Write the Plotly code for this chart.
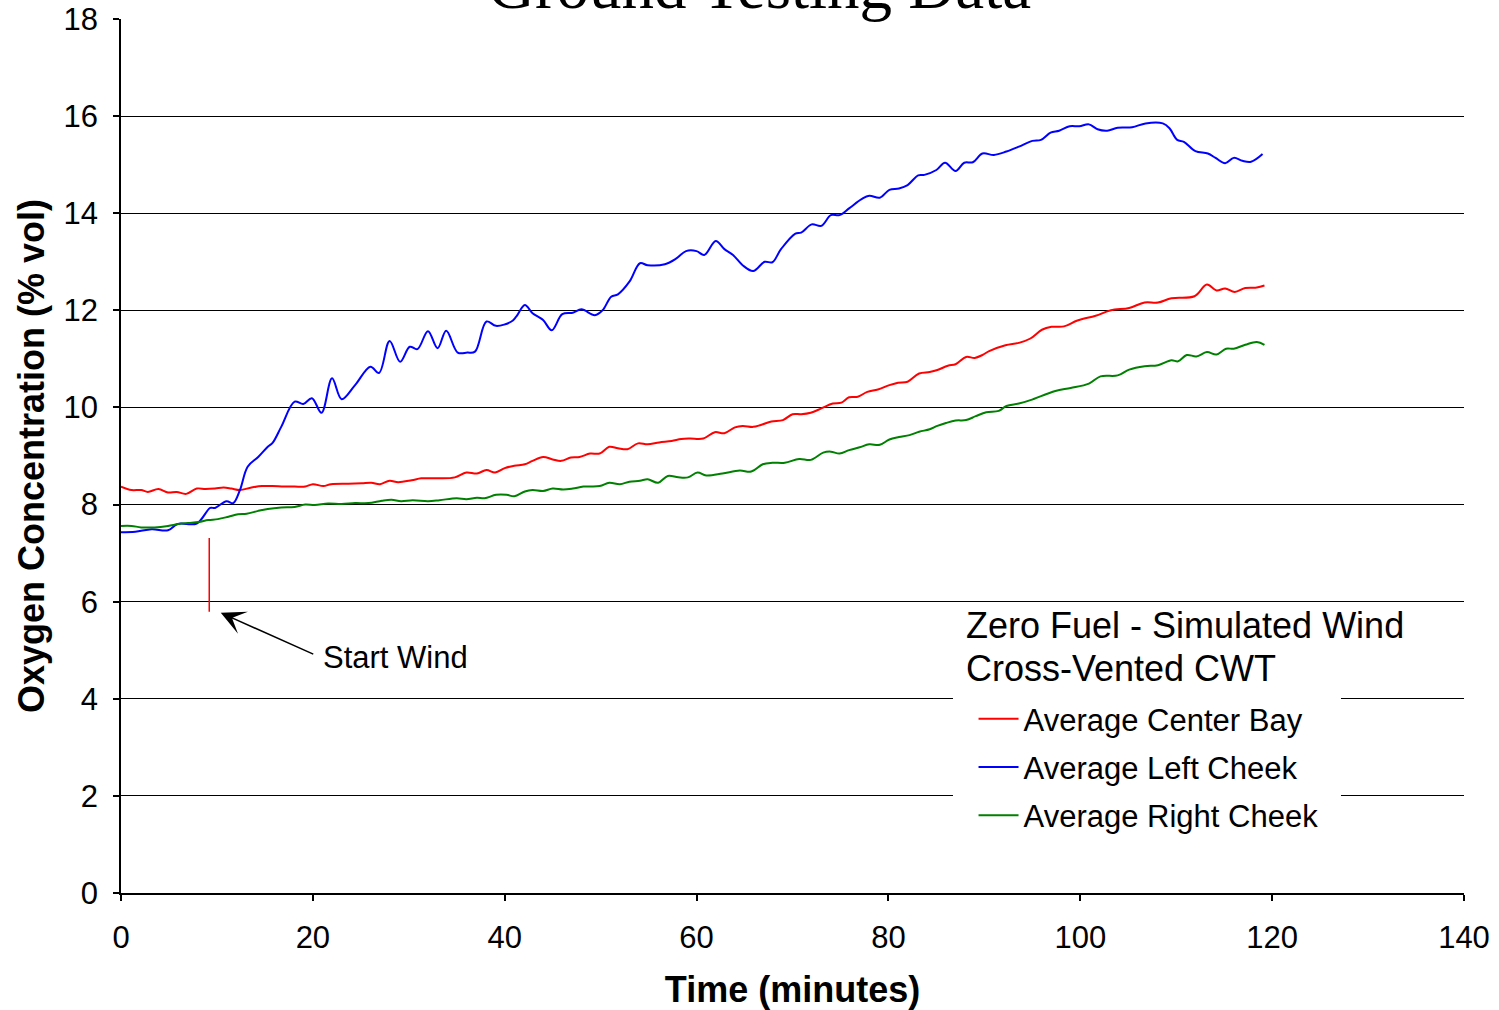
import plotly.graph_objects as go

# ---- Oxygen concentration readings (time in minutes, O2 in % vol) ----
t_center = [0.0, 1.1, 2.1, 2.8, 3.9, 4.9, 5.8, 6.8, 7.9, 8.8, 9.8, 10.7, 11.5, 12.4, 13.6,
            14.7, 15.8, 17.0, 18.1, 19.2, 20.0, 21.1, 21.9, 23.7, 25.1, 26.1, 27.0, 28.0,
            28.9, 30.3, 31.3, 33.1, 34.8, 36.0, 37.1, 38.1, 39.0, 40.0, 41.0, 42.1, 42.9,
            44.0, 45.0, 45.9, 46.9, 47.8, 48.9, 49.9, 50.9, 51.8, 52.8, 53.9, 54.9, 56.1,
            57.4, 58.4, 59.3, 60.7, 61.9, 62.9, 64.0, 64.8, 65.9, 66.7, 67.8, 69.0, 70.0,
            70.9, 71.9, 73.0, 74.2, 75.1, 75.9, 76.8, 77.8, 78.9, 80.1, 81.0, 82.0, 83.2,
            84.3, 85.1, 86.2, 87.0, 88.1, 89.0, 89.8, 90.5, 92.2, 93.6, 94.8, 96.0, 97.0,
            98.3, 99.7, 101.6, 103.2, 105.1, 106.7, 108.1, 109.5, 111.9, 113.2, 114.2,
            115.1, 116.1, 117.2, 118.4, 119.2]
o2_center = [8.37, 8.30, 8.30, 8.26, 8.32, 8.25, 8.26, 8.22, 8.33, 8.32, 8.33, 8.35, 8.33,
             8.30, 8.35, 8.38, 8.38, 8.37, 8.37, 8.37, 8.42, 8.38, 8.42, 8.43, 8.44, 8.45,
             8.42, 8.49, 8.46, 8.50, 8.54, 8.54, 8.56, 8.66, 8.64, 8.71, 8.66, 8.75, 8.80,
             8.83, 8.90, 8.98, 8.93, 8.90, 8.97, 8.98, 9.05, 9.05, 9.19, 9.16, 9.14, 9.26,
             9.24, 9.28, 9.31, 9.35, 9.36, 9.36, 9.49, 9.47, 9.59, 9.62, 9.60, 9.64, 9.71,
             9.74, 9.86, 9.86, 9.89, 9.98, 10.08, 10.10, 10.21, 10.22, 10.32, 10.37, 10.46,
             10.51, 10.53, 10.70, 10.73, 10.77, 10.86, 10.89, 11.04, 11.02, 11.08, 11.16,
             11.28, 11.33, 11.42, 11.60, 11.66, 11.67, 11.79, 11.89, 12.00, 12.05, 12.16,
             12.16, 12.25, 12.29, 12.53, 12.41, 12.45, 12.38, 12.46, 12.47, 12.51]

t_left = [0.0, 1.5, 3.2, 4.9, 5.9, 7.9, 9.3, 9.8, 11.0, 11.7, 12.4, 13.2, 14.3, 15.3, 15.8,
          16.7, 18.1, 19.0, 19.9, 20.9, 22.0, 23.0, 24.4, 26.0, 26.9, 28.0, 29.1, 30.1,
          30.9, 32.0, 33.0, 33.9, 35.1, 36.1, 36.9, 38.1, 39.1, 40.7, 41.2, 42.1, 42.9,
          44.0, 44.9, 46.0, 47.1, 48.0, 49.4, 50.2, 51.1, 51.8, 53.0, 54.1, 54.9, 56.7,
          57.9, 58.9, 60.0, 60.8, 62.0, 62.9, 63.8, 64.8, 65.9, 67.1, 67.9, 68.8, 70.3,
          70.9, 72.0, 73.0, 74.0, 74.9, 75.9, 77.2, 78.0, 79.1, 80.1, 81.1, 82.0, 83.1,
          83.75, 85.0, 85.9, 87.0, 87.9, 88.8, 89.8, 91.0, 92.3, 93.6, 95.0, 95.9, 96.9,
          97.8, 98.9, 99.9, 100.9, 101.8, 102.8, 103.9, 105.4, 106.8, 108.6, 109.3, 110.1,
          110.8, 112.0, 113.3, 114.1, 115.1, 116.0, 116.9, 117.8, 119.0]
o2_left = [7.43, 7.44, 7.49, 7.47, 7.60, 7.61, 7.93, 7.93, 8.07, 8.03, 8.30, 8.78, 8.98,
           9.19, 9.27, 9.60, 10.12, 10.07, 10.19, 9.89, 10.60, 10.17, 10.46, 10.84, 10.71,
           11.37, 10.94, 11.25, 11.20, 11.57, 11.22, 11.58, 11.13, 11.13, 11.15, 11.77,
           11.68, 11.77, 11.87, 12.11, 11.94, 11.80, 11.59, 11.92, 11.95, 12.02, 11.90,
           12.00, 12.28, 12.33, 12.59, 12.97, 12.93, 12.95, 13.07, 13.22, 13.22, 13.14,
           13.43, 13.26, 13.14, 12.93, 12.81, 13.00, 12.99, 13.26, 13.58, 13.60, 13.77,
           13.74, 13.96, 13.96, 14.10, 14.29, 14.36, 14.32, 14.48, 14.51, 14.58, 14.78,
           14.79, 14.89, 15.04, 14.87, 15.04, 15.05, 15.23, 15.20, 15.27, 15.37, 15.49,
           15.51, 15.66, 15.70, 15.79, 15.79, 15.83, 15.73, 15.70, 15.76, 15.77, 15.85,
           15.85, 15.75, 15.51, 15.47, 15.28, 15.23, 15.14, 15.03, 15.14, 15.08, 15.06,
           15.22]

t_right = [0.0, 1.1, 2.1, 3.5, 4.9, 6.0, 7.0, 8.1, 9.1, 10.1, 11.2, 12.2, 13.1, 14.3, 15.3,
           16.7, 18.1, 19.2, 20.2, 21.6, 23.0, 24.4, 25.8, 27.2, 28.2, 29.2, 30.4, 32.0,
           33.2, 35.0, 36.0, 37.1, 37.9, 39.1, 40.2, 41.0, 42.1, 42.9, 44.0, 45.0, 46.1,
           47.1, 48.2, 49.9, 50.9, 52.0, 53.0, 54.1, 54.9, 56.0, 57.0, 58.1, 59.1, 60.1,
           61.0, 62.7, 64.5, 65.7, 66.9, 67.9, 69.2, 70.7, 71.9, 73.2, 74.0, 74.9, 75.9,
           77.0, 78.0, 79.1, 80.1, 81.1, 82.2, 83.2, 84.3, 85.1, 86.0, 87.0, 88.1, 89.1,
           90.2, 91.5, 92.3, 93.6, 94.8, 97.4, 99.0, 100.9, 102.1, 103.9, 105.1, 106.7,
           108.1, 109.5, 110.2, 111.1, 112.1, 113.2, 114.2, 115.2, 116.0, 117.2, 118.4,
           119.2]
o2_right = [7.56, 7.56, 7.53, 7.53, 7.56, 7.60, 7.62, 7.64, 7.68, 7.70, 7.75, 7.80, 7.81,
            7.87, 7.91, 7.94, 7.95, 8.00, 7.99, 8.02, 8.01, 8.03, 8.03, 8.08, 8.10, 8.07,
            8.09, 8.07, 8.09, 8.13, 8.11, 8.14, 8.13, 8.20, 8.20, 8.17, 8.27, 8.30, 8.28,
            8.33, 8.31, 8.33, 8.37, 8.38, 8.45, 8.42, 8.47, 8.49, 8.52, 8.45, 8.59, 8.56,
            8.56, 8.66, 8.60, 8.64, 8.70, 8.68, 8.83, 8.86, 8.86, 8.94, 8.92, 9.07, 9.09,
            9.05, 9.12, 9.18, 9.24, 9.23, 9.34, 9.39, 9.43, 9.50, 9.55, 9.62, 9.68, 9.73,
            9.74, 9.82, 9.90, 9.93, 10.03, 10.08, 10.15, 10.34, 10.40, 10.49, 10.64, 10.66,
            10.78, 10.85, 10.87, 10.97, 10.95, 11.08, 11.05, 11.14, 11.09, 11.21, 11.21,
            11.29, 11.35, 11.29]

series_names = ["Average Center Bay", "Average Left Cheek", "Average Right Cheek"]
series_colors = ["#ff0000", "#0000ff", "#008000"]
legend_heading = ["Zero Fuel - Simulated Wind", "Cross-Vented CWT"]

# Wind start marker (minutes) and the O2 span of its tick mark
start_wind_time = 9.2
start_wind_span = [5.79, 7.31]

x_ticks = [0, 20, 40, 60, 80, 100, 120, 140]
y_ticks = [0, 2, 4, 6, 8, 10, 12, 14, 16, 18]

SANS = "Liberation Sans, Arial, sans-serif"
SERIF = "Liberation Serif, Times New Roman, serif"

fig = go.Figure()
for t, v, name, color in zip([t_center, t_left, t_right],
                             [o2_center, o2_left, o2_right],
                             series_names, series_colors):
    fig.add_trace(go.Scatter(
        x=t, y=v, mode="lines", name=name, legendgroup=name,
        line=dict(color=color, width=2, shape="spline", smoothing=1.0),
    ))

# red tick marking when the wind was switched on
fig.add_shape(type="line", xref="x", yref="y",
              x0=start_wind_time, x1=start_wind_time,
              y0=start_wind_span[0], y1=start_wind_span[1],
              line=dict(color="#ff0000", width=1.5))

# white panel behind the legend, hiding the gridlines there
fig.add_shape(type="rect", xref="paper", yref="paper", layer="above",
              x0=0.6195, x1=0.9084, y0=0.055, y1=0.328,
              fillcolor="white", line=dict(width=0))

# legend heading, two lines
fig.add_annotation(x=0.628, y=0.3055, xref="paper", yref="paper", text=legend_heading[0],
                   showarrow=False, xanchor="left", yanchor="middle",
                   font=dict(family=SANS, size=36, color="black"))
fig.add_annotation(x=0.628, y=0.2563, xref="paper", yref="paper", text=legend_heading[1],
                   showarrow=False, xanchor="left", yanchor="middle",
                   font=dict(family=SANS, size=36, color="black"))

# "Start Wind" label and its arrow
fig.add_annotation(x=20.8, y=4.86, xref="x", yref="y", text="Start Wind",
                   showarrow=False, xanchor="left", yanchor="middle",
                   font=dict(family=SANS, size=31, color="black"))
fig.add_annotation(x=10.4, y=5.77, xref="x", yref="y", text="",
                   showarrow=True, ax=94, ay=42, axref="pixel", ayref="pixel",
                   arrowhead=3, arrowsize=2.7, arrowwidth=1.5, arrowcolor="black")

# chart title (large serif heading running off the top edge)
fig.add_annotation(x=0.4758, y=1.0378, xref="paper", yref="paper",
                   text="Ground Testing Data", showarrow=False,
                   xanchor="center", yanchor="middle",
                   font=dict(family=SERIF, size=65, color="black"))

fig.update_layout(
    width=1499, height=1010,
    margin=dict(l=121, r=35, t=19, b=117, autoexpand=False),
    paper_bgcolor="white", plot_bgcolor="white",
    font=dict(family=SANS, color="black"),
    showlegend=True,
    legend=dict(
        x=0.6348, y=0.2300, xanchor="left", yanchor="top",
        bgcolor="rgba(0,0,0,0)", borderwidth=0,
        font=dict(family=SANS, size=31, color="black"),
        traceorder="grouped", tracegroupgap=5, itemwidth=40,
    ),
    xaxis=dict(
        range=[0, 140], tickvals=x_ticks, ticktext=[str(v) for v in x_ticks],
        showgrid=False, zeroline=False, automargin=False,
        showline=True, linecolor="black", linewidth=1.5,
        ticks="outside", ticklen=6, tickwidth=1.5, tickcolor="black",
        ticklabelstandoff=10,
        tickfont=dict(family=SANS, size=31, color="black"),
        title=dict(text="<b>Time (minutes)</b>",
                   font=dict(family=SANS, size=36, color="black"), standoff=31),
    ),
    yaxis=dict(
        range=[0, 18], tickvals=y_ticks, ticktext=[str(v) for v in y_ticks],
        showgrid=True, gridcolor="#000000", gridwidth=1, zeroline=False, automargin=False,
        showline=True, linecolor="black", linewidth=1.5,
        ticks="outside", ticklen=6, tickwidth=1.5, tickcolor="black",
        ticklabelstandoff=9,
        tickfont=dict(family=SANS, size=31, color="black"),
        title=dict(text="<b>Oxygen Concentration (% vol)</b>",
                   font=dict(family=SANS, size=36, color="black"), standoff=8),
    ),
)

fig.write_html("out.html")
